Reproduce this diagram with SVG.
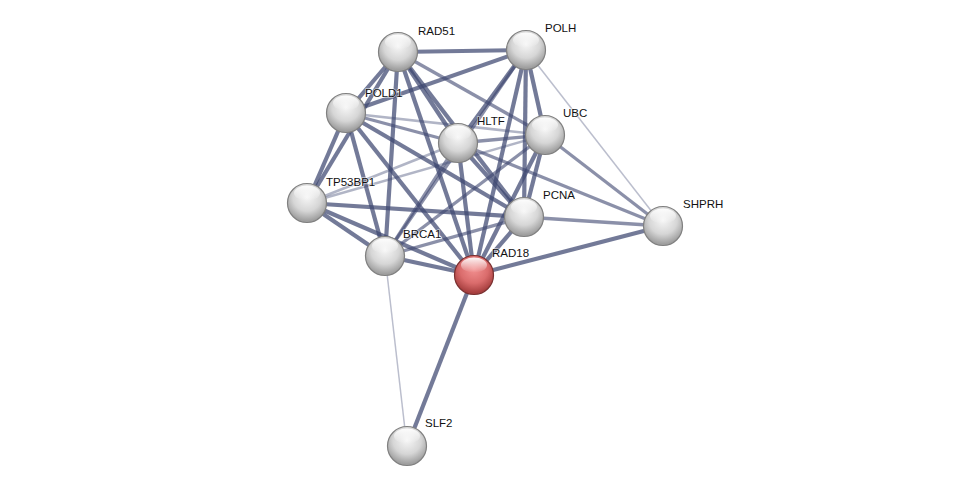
<svg xmlns="http://www.w3.org/2000/svg" width="975" height="490" viewBox="0 0 975 490">
<defs>
<radialGradient id="gw" cx="50%" cy="35%" r="60%">
<stop offset="0" stop-color="#f6f6f6"/>
<stop offset="0.6" stop-color="#d6d6d6"/>
<stop offset="1" stop-color="#a0a0a0"/>
</radialGradient>
<radialGradient id="gr" cx="50%" cy="35%" r="60%">
<stop offset="0" stop-color="#f29090"/>
<stop offset="0.6" stop-color="#da6c6c"/>
<stop offset="1" stop-color="#a84040"/>
</radialGradient>
<linearGradient id="hl" x1="0" y1="0" x2="0" y2="1">
<stop offset="0" stop-color="#fff" stop-opacity="0.95"/>
<stop offset="1" stop-color="#fff" stop-opacity="0"/>
</linearGradient>
<g id="sph">
<ellipse cx="0" cy="-10" rx="13" ry="7.5" fill="url(#hl)"/>
</g>
</defs>
<style>
.e{stroke:#3d4670;fill:none}
.a{stroke-width:4.2;stroke-opacity:.72}
.b{stroke-width:3.3;stroke-opacity:.6}
.c{stroke-width:2.5;stroke-opacity:.4}
.d{stroke-width:1.5;stroke-opacity:.35}
.n{stroke:#808080;stroke-width:1.2}
text{font-family:"Liberation Sans",Arial,sans-serif;font-size:11.5px;fill:#111;paint-order:stroke;stroke:#fff;stroke-width:1.5px;stroke-opacity:.6}
</style>
<rect width="975" height="490" fill="#fff"/>
<g id="edges">
<line class="e a" x1="398" y1="52" x2="526" y2="50"/>
<line class="e a" x1="398" y1="52" x2="346" y2="113"/>
<line class="e a" x1="346" y1="113" x2="526" y2="50"/>
<line class="e a" x1="398" y1="52" x2="307" y2="203"/>
<line class="e a" x1="346" y1="113" x2="307" y2="203"/>
<line class="e a" x1="346" y1="113" x2="385" y2="256"/>
<line class="e a" x1="398" y1="52" x2="385" y2="256"/>
<line class="e a" x1="307" y1="203" x2="385" y2="256"/>
<line class="e a" x1="307" y1="203" x2="524" y2="217"/>
<line class="e a" x1="307" y1="203" x2="474" y2="275"/>
<line class="e a" x1="385" y1="256" x2="474" y2="275"/>
<line class="e a" x1="474" y1="275" x2="524" y2="217"/>
<line class="e a" x1="474" y1="275" x2="663" y2="226"/>
<line class="e a" x1="474" y1="275" x2="407" y2="447"/>
<line class="e a" x1="526" y1="50" x2="524" y2="217"/>
<line class="e a" x1="526" y1="50" x2="474" y2="275"/>
<line class="e a" x1="526" y1="50" x2="545" y2="135"/>
<line class="e a" x1="398" y1="52" x2="458" y2="143"/>
<line class="e a" x1="398" y1="52" x2="474" y2="275"/>
<line class="e a" x1="398" y1="52" x2="524" y2="217"/>
<line class="e a" x1="346" y1="113" x2="524" y2="217"/>
<line class="e a" x1="346" y1="113" x2="474" y2="275"/>
<line class="e a" x1="458" y1="143" x2="524" y2="217"/>
<line class="e a" x1="458" y1="143" x2="474" y2="275"/>
<line class="e a" x1="545" y1="135" x2="524" y2="217"/>
<line class="e a" x1="545" y1="135" x2="474" y2="275"/>
<line class="e a" x1="526" y1="50" x2="458" y2="143"/>
<line class="e b" x1="398" y1="52" x2="545" y2="135"/>
<line class="e b" x1="458" y1="143" x2="663" y2="226"/>
<line class="e b" x1="545" y1="135" x2="663" y2="226"/>
<line class="e b" x1="524" y1="217" x2="663" y2="226"/>
<line class="e b" x1="385" y1="256" x2="524" y2="217"/>
<line class="e b" x1="385" y1="256" x2="458" y2="143"/>
<line class="e b" x1="385" y1="256" x2="545" y2="135"/>
<line class="e b" x1="526" y1="50" x2="385" y2="256"/>
<line class="e b" x1="458" y1="143" x2="545" y2="135"/>
<line class="e b" x1="346" y1="113" x2="458" y2="143"/>
<line class="e c" x1="346" y1="113" x2="545" y2="135"/>
<line class="e c" x1="307" y1="203" x2="458" y2="143"/>
<line class="e c" x1="307" y1="203" x2="545" y2="135"/>
<line class="e d" x1="526" y1="50" x2="663" y2="226"/>
<line class="e d" x1="385" y1="256" x2="407" y2="447"/>
</g>
<g id="RAD51"><circle class="n" cx="398" cy="52" r="19.5" fill="url(#gw)"/><use href="#sph" x="398" y="52"/><text x="418" y="35">RAD51</text></g>
<g id="POLH"><circle class="n" cx="526" cy="50" r="19.5" fill="url(#gw)"/><use href="#sph" x="526" y="50"/><text x="545" y="32">POLH</text></g>
<g id="POLD1"><circle class="n" cx="346" cy="113" r="19.5" fill="url(#gw)"/><use href="#sph" x="346" y="113"/><text x="365" y="97">POLD1</text></g>
<g id="HLTF"><circle class="n" cx="458" cy="143" r="19.5" fill="url(#gw)"/><use href="#sph" x="458" y="143"/><text x="477" y="125">HLTF</text></g>
<g id="UBC"><circle class="n" cx="545" cy="135" r="19.5" fill="url(#gw)"/><use href="#sph" x="545" y="135"/><text x="563" y="117">UBC</text></g>
<g id="TP53BP1"><circle class="n" cx="307" cy="203" r="19.5" fill="url(#gw)"/><use href="#sph" x="307" y="203"/><text x="326" y="186">TP53BP1</text></g>
<g id="PCNA"><circle class="n" cx="524" cy="217" r="19.5" fill="url(#gw)"/><use href="#sph" x="524" y="217"/><text x="543" y="199">PCNA</text></g>
<g id="SHPRH"><circle class="n" cx="663" cy="226" r="19.5" fill="url(#gw)"/><use href="#sph" x="663" y="226"/><text x="683" y="208">SHPRH</text></g>
<g id="BRCA1"><circle class="n" cx="385" cy="256" r="19.5" fill="url(#gw)"/><use href="#sph" x="385" y="256"/><text x="403" y="238">BRCA1</text></g>
<g id="RAD18"><circle cx="474" cy="275" r="19.5" fill="url(#gr)" stroke="#7a3030" stroke-width="1.2"/><use href="#sph" x="474" y="275"/><text x="492" y="257">RAD18</text></g>
<g id="SLF2"><circle class="n" cx="407" cy="446" r="19.5" fill="url(#gw)"/><use href="#sph" x="407" y="446"/><text x="425" y="427">SLF2</text></g>
</svg>
